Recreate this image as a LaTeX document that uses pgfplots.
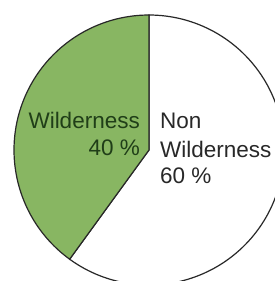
\documentclass[border=0pt]{standalone}
\usepackage{pgfplots}
\pgfplotsset{compat=1.18}
\usepackage{pgfplotstable}
\usepgfplotslibrary{polar}
\usepackage{fontspec}
\setmainfont{Liberation Sans}
\definecolor{wgreen}{RGB}{136,182,98}
\definecolor{wtext}{RGB}{32,62,24}
\definecolor{ntext}{RGB}{40,40,40}
\definecolor{edge}{RGB}{40,40,40}
\pgfplotstableread{
label share
Wilderness 40
NonWilderness 60
}\pietable
\begin{document}
\begin{tikzpicture}
\pgfplotstablegetelem{0}{share}\of\pietable
\pgfmathsetmacro\angA{90+3.6*\pgfplotsretval}
\pgfplotstablegetelem{1}{share}\of\pietable
\pgfmathsetmacro\angB{\angA+3.6*\pgfplotsretval}
\useasboundingbox (-149pt,-131pt) rectangle (126pt,150pt);
\clip (-149pt,-131pt) rectangle (126pt,150pt);
\begin{polaraxis}[
  at={(0pt,0pt)}, anchor=center,
  hide axis,
  scale only axis,
  width=270pt, height=270pt,
  xmin=0, xmax=360, ymin=0, ymax=1,
  clip=false,
]
\addplot[fill=white, draw=edge, line width=1.2pt, domain=\angA:\angB, samples=120] {1} -- (axis cs:0,0) -- cycle;
\addplot[fill=wgreen, draw=edge, line width=1.2pt, domain=90:\angA, samples=100] {1} -- (axis cs:0,0) -- cycle;
\coordinate (C) at (axis cs:0,0);
\end{polaraxis}
\begin{scope}[every node/.style={inner sep=0pt, font=\fontsize{22.5}{27}\selectfont}]
\node[anchor=base east, text=wtext] at ([shift={(-9pt,22pt)}]C) {Wilderness};
\node[anchor=base east, text=wtext] at ([shift={(-9pt,-5pt)}]C) {40 \%};
\node[anchor=base west, text=ntext] at ([shift={(11pt,22pt)}]C) {Non};
\node[anchor=base west, text=ntext] at ([shift={(11pt,-7pt)}]C) {Wilderness};
\node[anchor=base west, text=ntext] at ([shift={(11pt,-33pt)}]C) {60 \%};
\end{scope}
\end{tikzpicture}
\end{document}
